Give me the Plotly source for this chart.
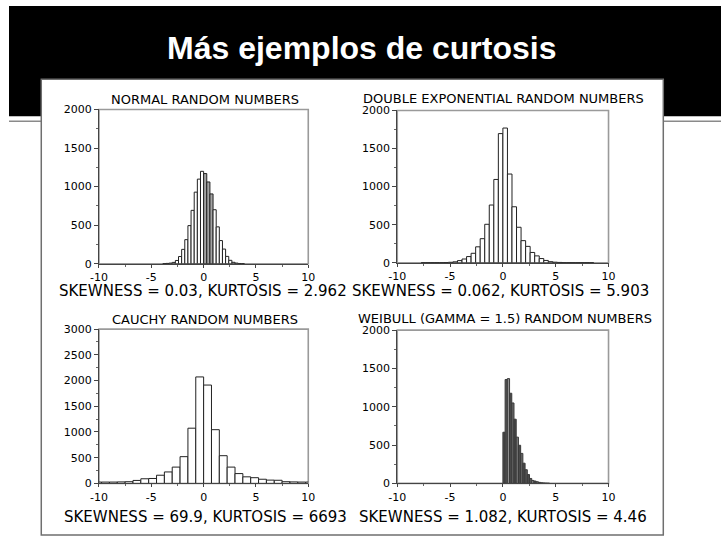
import plotly.graph_objects as go

W, H = 728, 546

# ---------------- data ----------------
x_tick_vals = [-10, -5, 0, 5, 10]
x_tick_text = ["-10", "-5", "0", "5", "10"]

normal_bins = [-3.75, -3.45, -3.15, -2.85, -2.55, -2.25, -1.95, -1.65, -1.35, -1.05, -0.75, -0.45, -0.15,
               0.15, 0.45, 0.75, 1.05, 1.35, 1.65, 1.95, 2.25, 2.55, 2.85, 3.15, 3.45, 3.75]
normal_counts = [2, 4, 8, 17, 42, 93, 186, 312, 494, 692, 928, 1097, 1198,
                 1169, 1060, 905, 700, 478, 300, 190, 95, 44, 18, 8, 3, 2]

dexp_bins = [-7.525, -7.095, -6.665, -6.235, -5.805, -5.375, -4.945, -4.515, -4.085, -3.655, -3.225,
             -2.795, -2.365, -1.935, -1.505, -1.075, -0.645, -0.215,
             0.215, 0.645, 1.075, 1.505, 1.935, 2.365, 2.795, 3.225, 3.655, 4.085, 4.515,
             4.945, 5.375, 5.805, 6.235, 6.665, 7.095, 7.525, 7.955, 8.385]
dexp_counts = [1, 1, 1, 1, 2, 3, 6, 12, 28, 49, 81,
               124, 209, 316, 505, 758, 1094, 1696,
               1769, 1165, 735, 466, 290, 215, 135, 90, 55, 30, 14,
               7, 4, 2, 1, 1, 1, 1, 1, 1]

cauchy_bins = [-10.125, -9.375, -8.625, -7.875, -7.125, -6.375, -5.625, -4.875, -4.125, -3.375,
               -2.625, -1.875, -1.125, -0.375,
               0.375, 1.125, 1.875, 2.625, 3.375, 4.125, 4.875, 5.625, 6.375, 7.125,
               7.875, 8.625, 9.375, 10.125]
cauchy_counts = [25, 25, 25, 28, 32, 57, 89, 95, 158, 222,
                 316, 519, 1073, 2070,
                 1912, 1044, 538, 316, 190, 127, 110, 80, 63, 60,
                 32, 28, 25, 25]

weibull_bins = [0.105, 0.315, 0.525, 0.735, 0.945, 1.155, 1.365, 1.575, 1.785, 1.995, 2.205,
                2.415, 2.625, 2.835, 3.045, 3.255, 3.465, 3.675, 3.885, 4.095, 4.305]
weibull_counts = [667, 1355, 1367, 1176, 1049, 837, 603, 497, 391, 263, 178,
                  115, 64, 38, 30, 21, 13, 8, 5, 3, 2]

panel_titles = ["NORMAL RANDOM NUMBERS", "DOUBLE EXPONENTIAL RANDOM NUMBERS",
                "CAUCHY RANDOM NUMBERS", "WEIBULL (GAMMA = 1.5) RANDOM NUMBERS"]
panel_stats = ["SKEWNESS = 0.03, KURTOSIS = 2.962", "SKEWNESS = 0.062, KURTOSIS = 5.903",
               "SKEWNESS = 69.9, KURTOSIS = 6693", "SKEWNESS = 1.082, KURTOSIS = 4.46"]
y_max = [2000, 2000, 3000, 2000]
main_title = "Más ejemplos de curtosis"

# ---------------- styling helpers ----------------
def px(x):
    return x / W


def py(y):
    return 1 - y / H


FONT = "Liberation Sans, Arial, sans-serif"
FONT2 = "DejaVu Sans, Verdana, sans-serif"

# panel boxes in pixels: (left, right, top, bottom)
boxes = [(92, 306, 106, 264), (397, 613, 107, 263), (92, 306, 331, 489), (397, 613, 332, 489)]
title_pos = [(200, 96), (506, 95), (200, 321), (507, 320)]
stats_pos = [(198, 292), (503, 292), (201, 523), (505, 523)]

normal_fill = ["#a3a3a3" if 0 < c < 0.9 else "white" for c in normal_bins]
weib_palette = ["#4a4a4a", "#555555", "#8f8f8f", "#4a4a4a", "#6a6a6a", "#474747", "#7a7a7a",
                "#4a4a4a", "#666666", "#4a4a4a", "#5a5a5a"]
weibull_fill = [weib_palette[i % len(weib_palette)] for i in range(len(weibull_bins))]

fig = go.Figure()

series = [
    (normal_bins, normal_counts, 0.3, normal_fill, "#222222"),
    (dexp_bins, dexp_counts, 0.43, "white", "#222222"),
    (cauchy_bins, cauchy_counts, 0.75, "white", "#222222"),
    (weibull_bins, weibull_counts, 0.21, weibull_fill, "#3a3a3a"),
]

for i, (xs, ys, w, fill, lc) in enumerate(series):
    n = "" if i == 0 else str(i + 1)
    fig.add_trace(go.Bar(
        x=xs, y=ys, width=w,
        marker=dict(color=fill, line=dict(color=lc, width=1)),
        xaxis="x" + n, yaxis="y" + n, showlegend=False, hoverinfo="x+y",
    ))

layout_axes = {}
shapes = []
annotations = []

# page decoration
shapes.append(dict(type="rect", xref="paper", yref="paper", x0=0, x1=1, y0=py(113), y1=1,
                   fillcolor="black", line=dict(width=0), layer="below"))
shapes.append(dict(type="line", xref="paper", yref="paper", x0=0, x1=px(33), y0=py(118), y1=py(118),
                   line=dict(color="#8a8a8a", width=1.5), layer="below"))
shapes.append(dict(type="line", xref="paper", yref="paper", x0=px(669), x1=1, y0=py(118), y1=py(118),
                   line=dict(color="#8a8a8a", width=1.5), layer="below"))
shapes.append(dict(type="rect", xref="paper", yref="paper", x0=px(33), x1=px(669), y0=py(542), y1=py(75),
                   fillcolor="white", line=dict(color="#6f6f6f", width=1.5), layer="below"))

annotations.append(dict(text="<b>" + main_title + "</b>", x=px(360), y=py(43), xref="paper", yref="paper",
                        xanchor="center", yanchor="middle", showarrow=False,
                        font=dict(family=FONT, size=32, color="white")))

for i, (l, r, t, b) in enumerate(boxes):
    n = "" if i == 0 else str(i + 1)
    ym = y_max[i]
    yt = list(range(0, ym + 1, 500))
    layout_axes["xaxis" + n] = dict(
        domain=[px(l), px(r)], anchor="y" + n, range=[-10, 10],
        tickvals=x_tick_vals, ticktext=x_tick_text,
        ticks="outside", ticklen=3, tickcolor="#444", tickwidth=1,
        showline=True, linecolor="#444", linewidth=1, mirror=False,
        showgrid=False, zeroline=False, fixedrange=True,
        tickfont=dict(family=FONT2, size=11, color="black"),
        minor=dict(tickvals=[-7.5, -2.5, 2.5, 7.5], ticks="outside", ticklen=2, tickcolor="#666"),
    )
    layout_axes["yaxis" + n] = dict(
        domain=[py(b), py(t)], anchor="x" + n, range=[0, ym],
        tickvals=yt, ticktext=[str(v) for v in yt],
        ticks="outside", ticklen=4, tickcolor="#444", tickwidth=1,
        showline=True, linecolor="#444", linewidth=1, mirror=False,
        showgrid=False, zeroline=False, fixedrange=True,
        tickfont=dict(family=FONT2, size=11, color="black"),
        minor=dict(tickvals=list(range(250, ym, 500)), ticks="outside", ticklen=2, tickcolor="#666"),
    )
    shapes.append(dict(type="rect", xref="x" + n + " domain", yref="y" + n + " domain",
                       x0=0, x1=1, y0=0, y1=1, line=dict(color="#9a9a9a", width=1.6), layer="below"))
    tx, ty = title_pos[i]
    annotations.append(dict(text=panel_titles[i], x=px(tx), y=py(ty), xref="paper", yref="paper",
                            xanchor="center", yanchor="middle", showarrow=False,
                            font=dict(family=FONT2, size=13, color="black")))
    sx, sy = stats_pos[i]
    annotations.append(dict(text=panel_stats[i], x=px(sx), y=py(sy), xref="paper", yref="paper",
                            xanchor="center", yanchor="middle", showarrow=False,
                            font=dict(family=FONT2, size=15, color="black")))

fig.update_layout(
    width=W, height=H, margin=dict(l=0, r=0, t=0, b=0),
    paper_bgcolor="white", plot_bgcolor="white",
    barmode="overlay", showlegend=False,
    shapes=shapes, annotations=annotations,
    **layout_axes,
)

# page styling: no default margin; if a margin remains, paint it like the slide edges
page_fix = (
    "}); "
    "var _h=document.documentElement, _b=document.body; "
    "_h.style.margin='0'; _h.style.padding='0'; _b.style.margin='0'; _b.style.padding='0'; "
    "_b.style.overflow='hidden'; "
    "_h.style.background='linear-gradient(#000 0px, #000 120px, #fff 120px)'; "
    "_b.style.background='transparent'; "
    "(function(){"
)

fig.write_html("out.html", config={"displayModeBar": False}, post_script=page_fix)
